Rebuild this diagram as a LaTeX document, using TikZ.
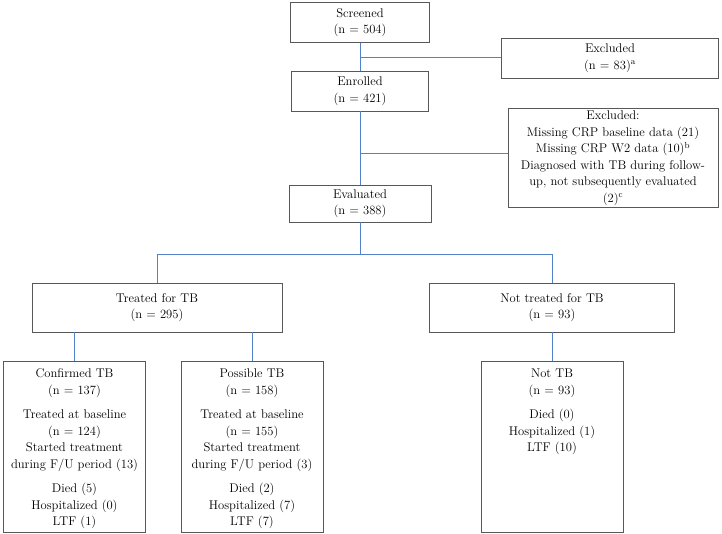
\documentclass[tikz,border=0pt]{standalone}
\usepackage{tikz}
\definecolor{linkblue}{RGB}{84,130,200}
\definecolor{boxgray}{RGB}{88,88,88}
\newcommand{\outcome}[1]{\parbox[c][155pt][t]{138pt}{\centering #1}}

\begin{document}
\begin{tikzpicture}[x=1pt,y=-1pt,line width=0.8pt,
   font=\fontsize{12.6}{16.5}\selectfont,
   flow box/.style={draw=boxgray,align=center,inner sep=2pt},
   outcome box/.style={draw=boxgray,inner xsep=2pt,inner ysep=8pt,minimum width=142pt,minimum height=171pt},
   link/.style={draw=linkblue}]

  \fill[white] (0,0) rectangle (722,534);
  \useasboundingbox (0,0) rectangle (722,534);

  \node[flow box,minimum width=139pt,minimum height=40pt](scr) at (360,22.5) {Screened\\(n = 504)};
  \node[flow box,minimum width=217pt,minimum height=40pt](exa) at (610,58) {Excluded\\(n = 83)\textsuperscript{a}};
  \node[flow box,minimum width=137pt,minimum height=40pt](enr) at (360,91) {Enrolled\\(n = 421)};
  \node[flow box,minimum width=210pt,minimum height=98pt](exb) at (613,158) {Excluded:\\Missing CRP baseline data (21)\\Missing CRP W2 data (10)\textsuperscript{b}\\Diagnosed with TB during follow-\\up, not subsequently evaluated\\(2)\textsuperscript{c}};
  \node[flow box,minimum width=142pt,minimum height=37pt](eva) at (360,203.5) {Evaluated\\(n = 388)};
  \node[flow box,minimum width=250pt,minimum height=49pt](trt) at (157,307.5) {Treated for TB\\(n = 295)};
  \node[flow box,minimum width=245pt,minimum height=49pt](ntr) at (552,307.5) {Not treated for TB\\(n = 93)};

  \node[outcome box](cnf) at (74.5,446.5) {\outcome{Confirmed TB\\(n = 137)\\[8pt]Treated at baseline\\(n = 124)\\Started treatment\\during F/U period (13)\\[8pt]Died (5)\\Hospitalized (0)\\LTF (1)}};
  \node[outcome box](pos) at (252,446.5) {\outcome{Possible TB\\(n = 158)\\[8pt]Treated at baseline\\(n = 155)\\Started treatment\\during F/U period (3)\\[8pt]Died (2)\\Hospitalized (7)\\LTF (7)}};
  \node[outcome box](ntb) at (552,446.5) {\outcome{Not TB\\(n = 93)\\[8pt]Died (0)\\Hospitalized (1)\\LTF (10)}};

  % branch points
  \coordinate (ja) at (360,57);
  \coordinate (jb) at (360,153);
  \coordinate (jc) at (360,254);

  \foreach \from/\to in {scr/enr,enr/eva,ntr/ntb} \draw[link] (\from) -- (\to);
  \draw[link] (ja) -- (ja -| exa.west);
  \draw[link] (jb) -- (jb -| exb.west);
  \draw[link] (eva.south) -- (jc);
  \draw[link] (trt.north) -- (trt.north |- jc) -- (ntr.north |- jc) -- (ntr.north);
  \draw[link] (trt.south -| cnf.north) -- (cnf.north);
  \draw[link] (trt.south -| pos.north) -- (pos.north);
\end{tikzpicture}
\end{document}
